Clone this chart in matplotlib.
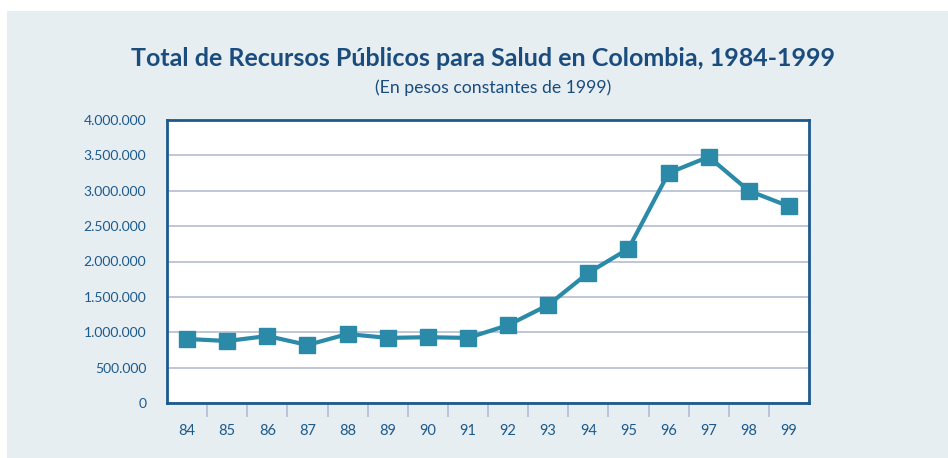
import matplotlib
matplotlib.use('Agg')
import matplotlib.pyplot as plt
from matplotlib.patches import Rectangle
from matplotlib.ticker import FuncFormatter, FixedLocator

plt.rcParams['font.family'] = ['Lato', 'DejaVu Sans']

# data
years = ['84', '85', '86', '87', '88', '89', '90', '91',
         '92', '93', '94', '95', '96', '97', '98', '99']
recursos = [905000, 876000, 947000, 820000, 975000, 920000, 930000, 920000,
            1100000, 1385000, 1840000, 2180000, 3250000, 3480000, 3000000, 2780000]
y_ticks = [0, 500000, 1000000, 1500000, 2000000, 2500000, 3000000, 3500000, 4000000]

bg = '#e6eef2'
dark_blue = '#1d5a8c'
line_col = '#2a8aa8'
grid_col = '#b4bcd2'

fig = plt.figure(figsize=(9.48, 4.58), dpi=100)
fig.patch.set_facecolor('white')
# light panel behind everything (white strip top/left in the original)
fig.patches.append(Rectangle((7 / 948, 0), 1, 1 - 11 / 458, transform=fig.transFigure,
                             facecolor=bg, edgecolor='none', zorder=-10))

ax = fig.add_axes([167 / 948, 1 - 403 / 458, 642 / 948, 283 / 458])
ax.set_facecolor('white')

x = list(range(len(years)))
ax.plot(x, recursos, color=line_col, linewidth=3, marker='s', markersize=12,
        markerfacecolor=line_col, markeredgecolor=line_col, zorder=3, clip_on=False)

ax.set_xlim(-0.5, len(years) - 0.5)
ax.set_ylim(0, 4000000)

ax.set_yticks(y_ticks)
ax.yaxis.set_major_formatter(FuncFormatter(lambda v, p: f'{int(v):,}'.replace(',', '.')))
ax.grid(axis='y', color=grid_col, linewidth=1.2, zorder=0)

# category labels centred, tick marks on the boundaries
ax.xaxis.set_major_locator(FixedLocator([i + 0.5 for i in range(len(years) - 1)]))
ax.xaxis.set_minor_locator(FixedLocator(x))
ax.set_xticklabels([])
ax.set_xticklabels(years, minor=True)
ax.tick_params(axis='x', which='major', length=10, width=1.2, color=grid_col, direction='out')
ax.tick_params(axis='x', which='minor', length=0, pad=15, labelsize=10.5, labelcolor=dark_blue)
ax.tick_params(axis='y', length=0, pad=15, labelsize=10, labelcolor=dark_blue)

for s in ax.spines.values():
    s.set_color(dark_blue)
    s.set_linewidth(2)

fig.text(483 / 948, 1 - 58 / 458, 'Total de Recursos Públicos para Salud en Colombia, 1984-1999',
         ha='center', va='center', fontsize=18, fontweight='bold', color='#1a4c7e')
fig.text(493 / 948, 1 - 88 / 458, '(En pesos constantes de 1999)',
         ha='center', va='center', fontsize=12.7, color='#1a4c7e')

fig.savefig('out.png', dpi=100, facecolor=fig.get_facecolor())
